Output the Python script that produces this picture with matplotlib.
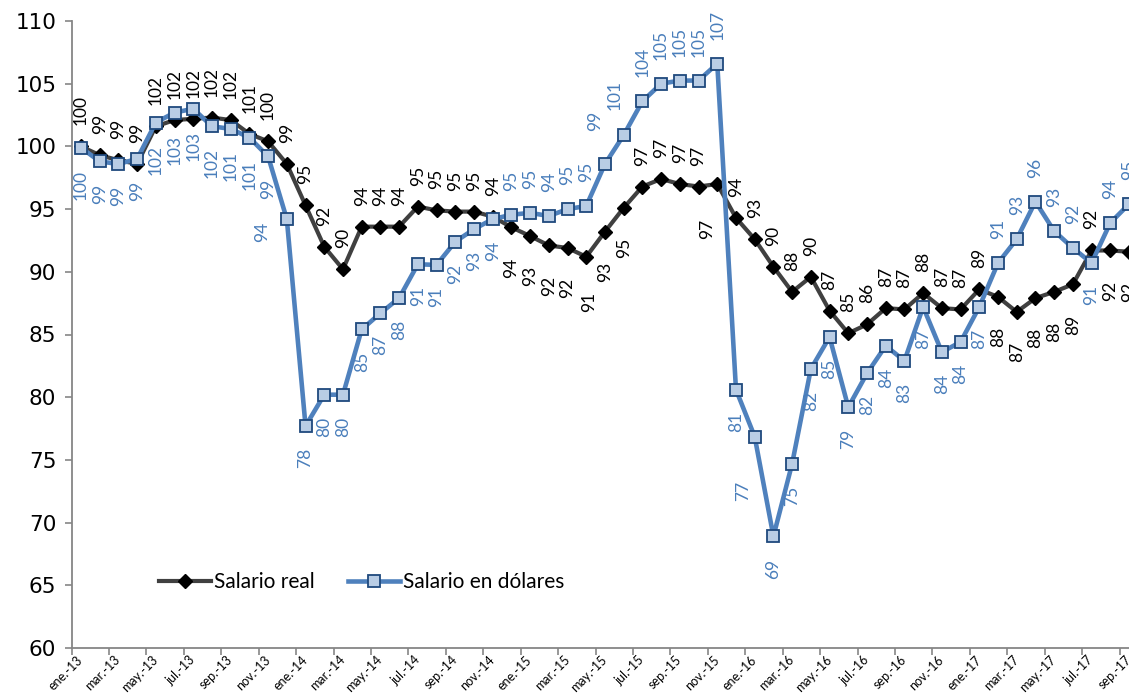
import matplotlib
matplotlib.use("Agg")
import matplotlib.pyplot as plt
import numpy as np

# ---------------- data ----------------
month_abbr = ["ene.", "feb.", "mar.", "abr.", "may.", "jun.",
              "jul.", "ago.", "sep.", "oct.", "nov.", "dic."]
years = ["13", "14", "15", "16", "17"]

salario_real = [100.0, 99.3, 98.9, 98.6, 101.6, 102.1, 102.2, 102.3, 102.1, 101.0, 100.4, 98.6,
                95.3, 92.0, 90.2, 93.6, 93.6, 93.6, 95.2, 94.9, 94.8, 94.8, 94.4, 93.55,
                92.85, 92.1, 91.9, 91.2, 93.2, 95.1, 96.8, 97.4, 97.0, 96.8, 97.0, 94.3,
                92.6, 90.4, 88.4, 89.6, 86.9, 85.1, 85.8, 87.1, 87.0, 88.3, 87.1, 87.0,
                88.6, 88.0, 86.8, 87.9, 88.4, 89.0, 91.7, 91.7, 91.6]

salario_usd = [99.9, 98.8, 98.6, 99.0, 101.9, 102.7, 103.0, 101.6, 101.4, 100.7, 99.2, 94.2,
               77.7, 80.2, 80.2, 85.4, 86.7, 87.9, 90.6, 90.55, 92.4, 93.4, 94.2, 94.55,
               94.7, 94.45, 95.0, 95.25, 98.6, 100.9, 103.6, 105.0, 105.25, 105.25, 106.6, 80.6,
               76.85, 68.9, 74.7, 82.25, 84.8, 79.2, 81.9, 84.1, 82.9, 87.2, 83.6, 84.4,
               87.2, 90.7, 92.6, 95.6, 93.25, 91.9, 90.7, 93.9, 95.4]

series_names = ["Salario real", "Salario en dólares"]

n = len(salario_real)
categories = [f"{month_abbr[i % 12]}-{years[i // 12]}" for i in range(n)]
x = np.arange(n)

# label placement (a = above, b = below)
real_below = set(list(range(23, 30)) + [34, 49, 50, 51, 52, 53, 55, 56])
usd_above = set(list(range(23, 35)) + [49, 50, 51, 52, 53, 55, 56])
# special label offsets in pixels (dx, dy of nearest text edge)
usd_special = {11: (-25, -3), 36: (-12, -44), 28: (-10, 33), 29: (-9, 25)}
real_special = {34: (-10, -35), 27: (3, -35)}

# ---------------- style ----------------
BLACK_LINE = "#404040"
BLUE_LINE = "#4F81BD"
BLUE_FILL = "#B9CDE5"
BLUE_EDGE = "#1F497D"
BLUE_TEXT = "#4A7EBB"
AX_GRAY = "#868686"
PX = 0.72  # points per pixel at dpi 100

fig = plt.figure(figsize=(11.29, 6.98), dpi=100)
ax = fig.add_axes([71.6 / 1129, 50 / 698, 1 - 71.6 / 1129, (648 - 21) / 698])

ax.plot(x, salario_real, color=BLACK_LINE, lw=3.0, marker="D", ms=7.0,
        mfc="black", mec="black", mew=1.0, label=series_names[0], zorder=3)
ax.plot(x, salario_usd, color=BLUE_LINE, lw=3.3, marker="s", ms=9.0,
        mfc=BLUE_FILL, mec=BLUE_EDGE, mew=1.3, label=series_names[1], zorder=4)

lab_font = dict(family=["Lato", "DejaVu Sans"], size=12.5)

for i, v in enumerate(salario_real):
    txt = f"{round(v):.0f}"
    if i in real_special:
        dx, dy = real_special[i]
        va = "bottom" if dy > 0 else "top"
    elif i in real_below:
        dx, dy, va = 0, -30, "top"
    else:
        dx, dy, va = 0, 21, "bottom"
    ax.annotate(txt, (i, v), xytext=(dx * PX, dy * PX), textcoords="offset points",
                rotation=90, ha="center", va=va, color="black",
                annotation_clip=False, zorder=5, **lab_font)

for i, v in enumerate(salario_usd):
    txt = f"{round(v):.0f}"
    if i in usd_special:
        dx, dy = usd_special[i]
        va = "bottom" if dy > 0 else "top"
    elif i in usd_above:
        dx, dy, va = 0, 24, "bottom"
    else:
        dx, dy, va = 0, -22, "top"
    ax.annotate(txt, (i, v), xytext=(dx * PX, dy * PX), textcoords="offset points",
                rotation=90, ha="center", va=va, color=BLUE_TEXT,
                annotation_clip=False, zorder=5, **lab_font)

# axes
ax.set_ylim(60, 110)
ax.set_xlim(-0.5, 55.74)
ax.set_yticks(np.arange(60, 111, 5))
ax.tick_params(axis="y", direction="out", length=5, width=1.2, color=AX_GRAY,
               labelsize=15.5, pad=6)
for lab in ax.get_yticklabels():
    lab.set_fontfamily("DejaVu Sans")

ax.set_xticks(np.arange(-0.5, n, 2))
ax.set_xticklabels([])
ax.tick_params(axis="x", which="major", direction="out", length=5, width=1.2, color=AX_GRAY)
ax.set_xticks(x[::2], minor=True)
ax.set_xticklabels(categories[::2], minor=True, rotation=45, ha="right", va="center",
                   rotation_mode="anchor", fontsize=9,
                   fontfamily=["Lato", "DejaVu Sans"])
ax.tick_params(axis="x", which="minor", length=0, pad=7)

for side in ["top", "right"]:
    ax.spines[side].set_visible(False)
for side in ["left", "bottom"]:
    ax.spines[side].set_color(AX_GRAY)
    ax.spines[side].set_linewidth(1.3)

leg = ax.legend(loc="center left", ncol=2, frameon=False,
                prop=dict(family=["Lato", "DejaVu Sans"], size=15),
                handlelength=2.5, handletextpad=0.15, columnspacing=1.6, numpoints=1)
leg.set_bbox_to_anchor((140 / 1129, (698 - 582) / 698), transform=fig.transFigure)

fig.savefig("out.png", dpi=100)
